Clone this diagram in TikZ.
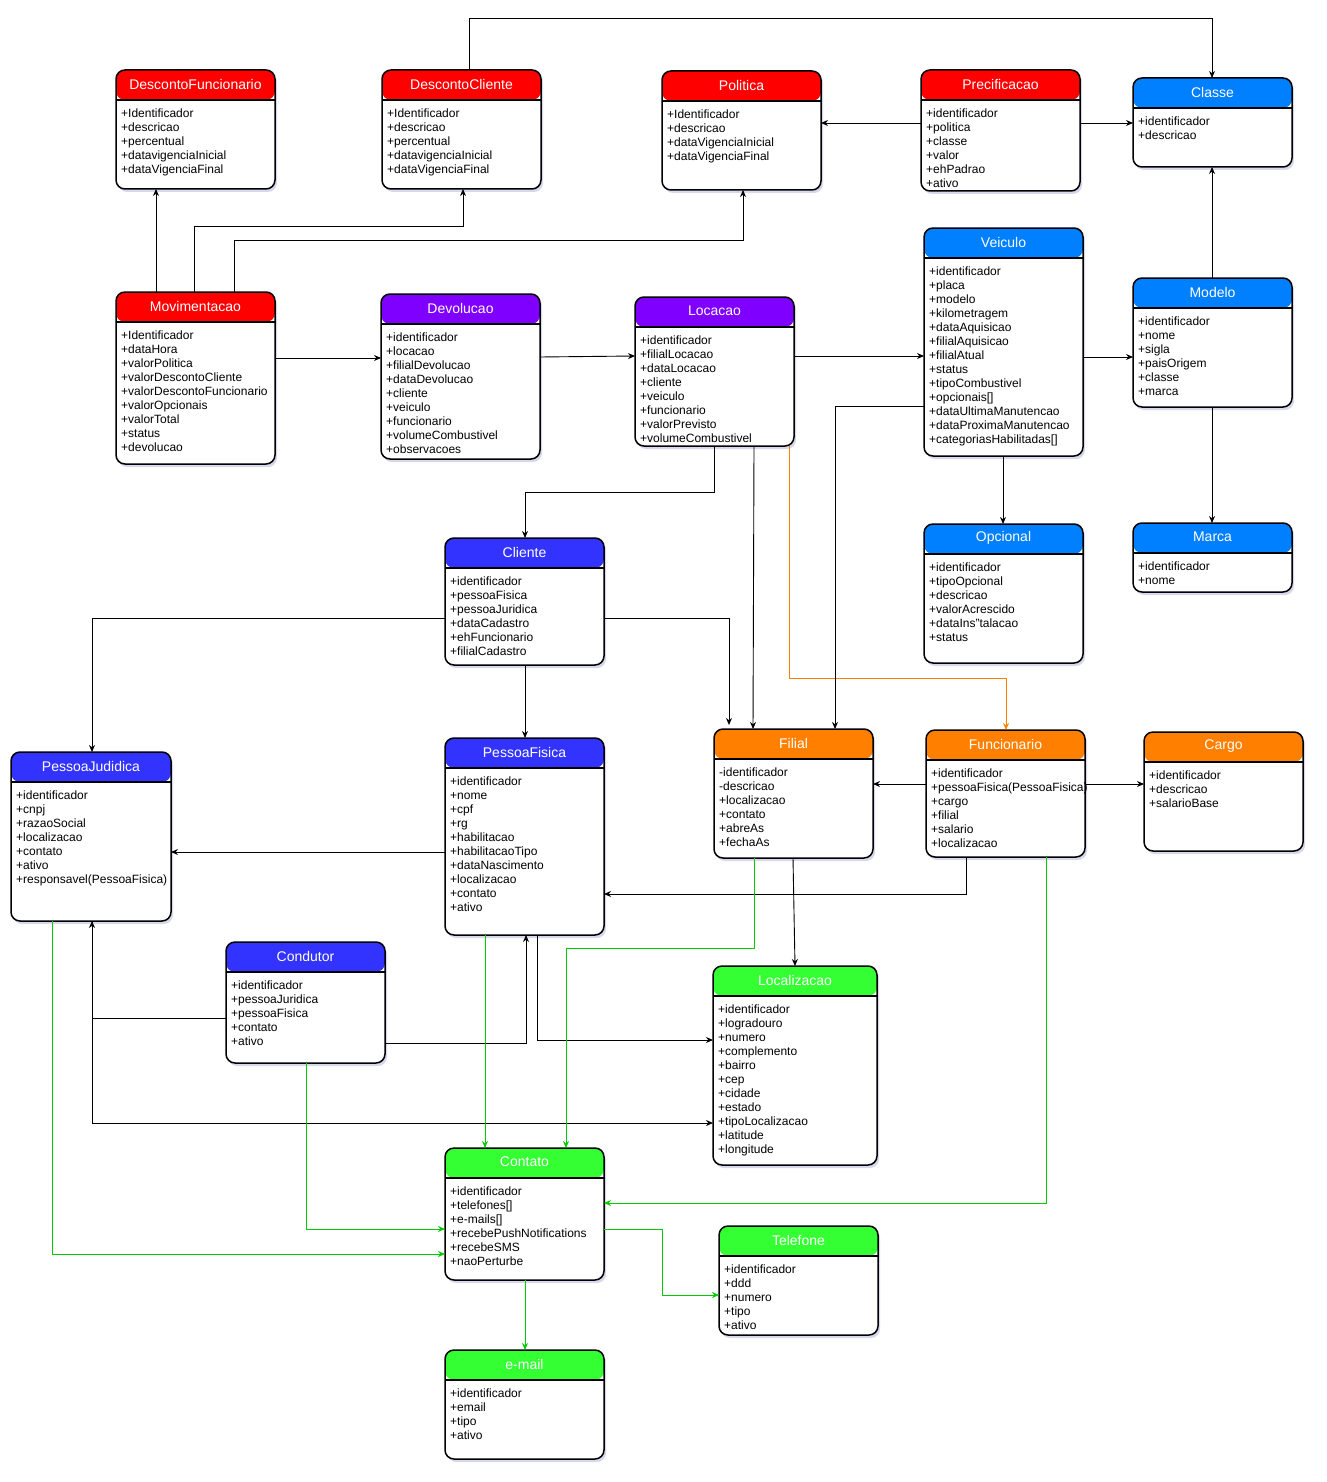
\documentclass[tikz,border=0pt]{standalone}
\usepackage{fontspec}
\setmainfont{Liberation Sans}
\usetikzlibrary{arrows.meta,shadows}
\definecolor{hred}{HTML}{FF0000}
\definecolor{hsky}{HTML}{0080FF}
\definecolor{hpurple}{HTML}{7F00FF}
\definecolor{hblue}{HTML}{3333FF}
\definecolor{horange}{HTML}{FF8000}
\definecolor{hgreen}{HTML}{33FF33}
\definecolor{lgreen}{HTML}{00CC00}
\definecolor{lorange}{HTML}{FF8000}
\tikzset{
  cls/.style={anchor=north west, draw=black, line width=1.5pt, rounded corners=9pt, fill=white,
    inner sep=0pt, outer sep=0pt,
    drop shadow={shadow xshift=2pt, shadow yshift=-3pt, opacity=0.22, fill=blue!40!gray}},
  ttl/.style={text=white, font=\fontsize{14}{16}\selectfont, inner sep=0pt},
  atr/.style={anchor=north west, inner sep=0pt, align=left, font=\fontsize{12}{14}\selectfont},
  conn/.style={draw=black, line width=0.9pt, -{Stealth[length=7pt,width=6pt]}},
  gconn/.style={draw=lgreen, line width=0.9pt, -{Stealth[length=7pt,width=6pt,fill=lgreen]}},
  oconn/.style={draw=lorange, line width=0.9pt, -{Stealth[length=7pt,width=6pt,fill=lorange]}},
}
\newcommand\umlc[8]{%
  \node[cls, minimum width=#4pt, minimum height=#5pt,
    path picture={\fill[#6] (path picture bounding box.north west) rectangle ([yshift=-30pt]path picture bounding box.north east);
      \draw[line width=1.5pt] ([yshift=-30pt]path picture bounding box.north west) -- ([yshift=-30pt]path picture bounding box.north east);}]
    (#1) at (#2,#3) {};
  \node[ttl] (#1-t) at ([yshift=-14pt]#1.north) {#7};
  \node[atr] (#1-a) at ([xshift=5pt,yshift=-39pt]#1.north west) {#8};
}
\begin{document}
\begin{tikzpicture}[x=1pt,y=-1pt]
\fill[white] (0,0) rectangle (1326,1482);
\useasboundingbox (0,0) rectangle (1326,1482);

\umlc{dfun}{116}{70}{159}{119}{hred}{DescontoFuncionario}{+Identificador\\+descricao\\+percentual\\+datavigenciaInicial\\+dataVigenciaFinal}
\umlc{dcli}{382}{70}{159}{119}{hred}{DescontoCliente}{+Identificador\\+descricao\\+percentual\\+datavigenciaInicial\\+dataVigenciaFinal}
\umlc{pol}{662}{71}{159}{119}{hred}{Politica}{+Identificador\\+descricao\\+dataVigenciaInicial\\+dataVigenciaFinal}
\umlc{pre}{921}{70}{159}{121}{hred}{Precificacao}{+identificador\\+politica\\+classe\\+valor\\+ehPadrao\\+ativo}
\umlc{cla}{1133}{78}{159}{89}{hsky}{Classe}{+identificador\\+descricao}
\umlc{mov}{116}{292}{159}{172}{hred}{Movimentacao}{+Identificador\\+dataHora\\+valorPolitica\\+valorDescontoCliente\\+valorDescontoFuncionario\\+valorOpcionais\\+valorTotal\\+status\\+devolucao}
\umlc{dev}{381}{294}{159}{165}{hpurple}{Devolucao}{+identificador\\+locacao\\+filialDevolucao\\+dataDevolucao\\+cliente\\+veiculo\\+funcionario\\+volumeCombustivel\\+observacoes}
\umlc{loc}{635}{297}{159}{149}{hpurple}{Locacao}{+identificador\\+filialLocacao\\+dataLocacao\\+cliente\\+veiculo\\+funcionario\\+valorPrevisto\\+volumeCombustivel}
\umlc{vei}{924}{228}{159}{228}{hsky}{Veiculo}{+identificador\\+placa\\+modelo\\+kilometragem\\+dataAquisicao\\+filialAquisicao\\+filialAtual\\+status\\+tipoCombustivel\\+opcionais[]\\+dataUltimaManutencao\\+dataProximaManutencao\\+categoriasHabilitadas[]}
\umlc{mod}{1133}{278}{159}{129}{hsky}{Modelo}{+identificador\\+nome\\+sigla\\+paisOrigem\\+classe\\+marca}
\umlc{opc}{924}{524}{159}{139}{hsky}{Opcional}{+identificador\\+tipoOpcional\\+descricao\\+valorAcrescido\\+dataIns"talacao\\+status}
\umlc{mar}{1133}{523}{159}{69}{hsky}{Marca}{+identificador\\+nome}
\umlc{cli}{445}{538}{159}{127}{hblue}{Cliente}{+identificador\\+pessoaFisica\\+pessoaJuridica\\+dataCadastro\\+ehFuncionario\\+filialCadastro}
\umlc{pj}{11}{752}{160}{169}{hblue}{PessoaJudidica}{+identificador\\+cnpj\\+razaoSocial\\+localizacao\\+contato\\+ativo\\+responsavel(PessoaFisica)}
\umlc{pf}{445}{738}{159}{197}{hblue}{PessoaFisica}{+identificador\\+nome\\+cpf\\+rg\\+habilitacao\\+habilitacaoTipo\\+dataNascimento\\+localizacao\\+contato\\+ativo}
\umlc{fil}{714}{729}{159}{129}{horange}{Filial}{-identificador\\-descricao\\+localizacao\\+contato\\+abreAs\\+fechaAs}
\umlc{fun}{926}{730}{159}{127}{horange}{Funcionario}{+identificador\\+pessoaFisica(PessoaFisica)\\+cargo\\+filial\\+salario\\+localizacao}
\umlc{car}{1144}{732}{159}{119}{horange}{Cargo}{+identificador\\+descricao\\+salarioBase}
\umlc{cond}{226}{942}{159}{121}{hblue}{Condutor}{+identificador\\+pessoaJuridica\\+pessoaFisica\\+contato\\+ativo}
\umlc{lz}{713}{966}{164}{199}{hgreen}{Localizacao}{+identificador\\+logradouro\\+numero\\+complemento\\+bairro\\+cep\\+cidade\\+estado\\+tipoLocalizacao\\+latitude\\+longitude}
\umlc{con}{445}{1148}{159}{132}{hgreen}{Contato}{+identificador\\+telefones[]\\+e-mails[]\\+recebePushNotifications\\+recebeSMS\\+naoPerturbe}
\umlc{tel}{719}{1226}{159}{109}{hgreen}{Telefone}{+identificador\\+ddd\\+numero\\+tipo\\+ativo}
\umlc{em}{445}{1350}{159}{109}{hgreen}{e-mail}{+identificador\\+email\\+tipo\\+ativo}

% black connectors
\draw[conn] (156,0 |- mov.north) -- (156,0 |- dfun.south);
\draw[conn] (194,0 |- mov.north) |- (463,226) -- (463,0 |- dcli.south);
\draw[conn] (234,0 |- mov.north) |- (743,240) -- (743,0 |- pol.south);
\draw[conn] (469,0 |- dcli.north) |- (1212,18) -- (1212,0 |- cla.north);
\draw[conn] (pre.west |- 0,123) -- (pol.east |- 0,123);
\draw[conn] (pre.east |- 0,123) -- (cla.west |- 0,123);
\draw[conn] (1212,0 |- mod.north) -- (1212,0 |- cla.south);
\draw[conn] (1212,0 |- mod.south) -- (1212,0 |- mar.north);
\draw[conn] (mov.east |- 0,358) -- (dev.west |- 0,358);
\draw[conn] (dev.east |- 0,357) -- (loc.west |- 0,356);
\draw[conn] (loc.east |- 0,356) -- (vei.west |- 0,356);
\draw[conn] (vei.east |- 0,357) -- (mod.west |- 0,357);
\draw[conn] (1003,0 |- vei.south) -- (1003,0 |- opc.north);
\draw[conn] (714,0 |- loc.south) |- (525,492) -- (525,0 |- cli.north);
\draw[conn] (754,0 |- loc.south) -- (753,0 |- fil.north);
\draw[oconn] (789,0 |- loc.south) |- (1006,678) -- (1006,0 |- fun.north);
\draw[conn] (vei.west |- 0,406) -| (835,0 |- fil.north);
\draw[conn] (cli.east |- 0,618) -| ([yshift=4pt]729,0 |- fil.north);
\draw[conn] (cli.west |- 0,618) -| (92,0 |- pj.north);
\draw[conn] (525,0 |- cli.south) -- (525,0 |- pf.north);
\draw[conn] (pf.west |- 0,852) -- (pj.east |- 0,852);
\draw[conn] (fun.west |- 0,784) -- (fil.east |- 0,784);
\draw[conn] (fun.east |- 0,784) -- (car.west |- 0,784);
\draw[conn] (966,0 |- fun.south) |- (pf.east |- 0,894);
\draw[conn] (793,0 |- fil.south) -- (795,0 |- lz.north);
\draw[conn] (537,0 |- pf.south) |- (lz.west |- 0,1040);
\draw[conn] (cond.east |- 0,1043) -| (526,0 |- pf.south);
\draw[conn] (cond.west |- 0,1018) -| (92,0 |- pj.south);
\draw[conn] (92,0 |- pj.south) |- (lz.west |- 0,1123);

% green connectors
\draw[gconn] (754,0 |- fil.south) |- (566,948) -- (566,0 |- con.north);
\draw[gconn] (485,0 |- pf.south) -- (485,0 |- con.north);
\draw[gconn] (52,0 |- pj.south) |- (con.west |- 0,1254);
\draw[gconn] (306,0 |- cond.south) |- (con.west |- 0,1229);
\draw[gconn] (1046,0 |- fun.south) |- (con.east |- 0,1203);
\draw[gconn] (con.east |- 0,1229) -| (662,1295) -- (tel.west |- 0,1295);
\draw[gconn] (525,0 |- con.south) -- (525,0 |- em.north);
\end{tikzpicture}
\end{document}
